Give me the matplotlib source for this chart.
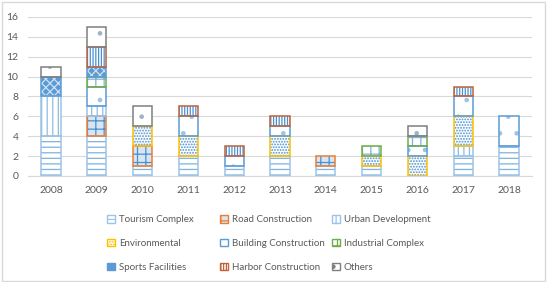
import numpy as np
import matplotlib
matplotlib.use("Agg")
import matplotlib.pyplot as plt
from matplotlib.patches import Patch, Rectangle

years = ['2008', '2009', '2010', '2011', '2012', '2013', '2014', '2015', '2016', '2017', '2018']

# counts per category, stacked bottom to top
tourism = [4, 4, 1, 2, 1, 2, 1, 1, 0, 2, 3]
road = [0, 2, 2, 0, 0, 0, 1, 0, 0, 0, 0]
urban = [4, 1, 0, 0, 0, 0, 0, 0, 0, 1, 0]
environmental = [0, 0, 2, 2, 0, 2, 0, 1, 2, 3, 0]
building = [0, 2, 0, 2, 1, 1, 0, 0, 1, 2, 3]
industrial = [0, 1, 0, 0, 0, 0, 0, 1, 1, 0, 0]
sports = [2, 1, 0, 0, 0, 0, 0, 0, 0, 0, 0]
harbor = [0, 2, 0, 1, 1, 1, 0, 0, 0, 1, 0]
others = [1, 2, 2, 0, 0, 0, 0, 0, 1, 0, 0]

names = ['Tourism Complex', 'Road Construction', 'Urban Development',
         'Environmental', 'Building Construction', 'Industrial Complex',
         'Sports Facilities', 'Harbor Construction', 'Others']
series = [tourism, road, urban, environmental, building, industrial, sports, harbor, others]

# (face, hatch, hatch colour, border colour)
styles = [
    ('white', '---', '#7FB2DE', '#9DC3E6'),
    ('#D6E6F5', '++', '#4A90D0', '#ED7D31'),
    ('white', '|||', '#8DBDE3', '#9DC3E6'),
    ('white', '......', '#4A90D0', '#FFC000'),
    ('white', '.', '#9DC3E6', '#5B9BD5'),
    ('white', '++', '#7FB2DE', '#70AD47'),
    ('#5B9BD5', 'xxxx', '#CFE2F3', '#5B9BD5'),
    ('white', '||||||', '#4A90D0', '#C0623A'),
    ('white', '.', '#9DB3C8', '#7F7F7F'),
]

plt.rcParams['font.family'] = ['Lato', 'DejaVu Sans']
plt.rcParams['hatch.linewidth'] = 0.9

fig = plt.figure(figsize=(5.5, 2.82), dpi=100)
ax = fig.add_axes([0.051, 0.376, 0.916, 0.564])

x = np.arange(len(years))
w = 0.42
bottom = np.zeros(len(years))
handles = []
for name, vals, (fc, hatch, hc, ec) in zip(names, series, styles):
    vals = np.array(vals, dtype=float)
    ax.bar(x, vals, w, bottom=bottom, color=fc, hatch=hatch, edgecolor=hc, linewidth=0, zorder=2)
    mask = vals > 0
    ax.bar(x[mask], vals[mask], w, bottom=bottom[mask], fill=False, edgecolor=ec, linewidth=1.1, zorder=3)
    bottom += vals
    handles.append(Patch(facecolor=fc, hatch=hatch, edgecolor=ec, linewidth=1.0, label=name))

ax.set_xlim(-0.5, len(years) - 0.5)
ax.set_ylim(0, 16)
ax.set_yticks(range(0, 17, 2))
ax.set_xticks(x)
ax.set_xticklabels(years)
ax.yaxis.grid(True, color='#D9D9D9', linewidth=0.8, zorder=0)
ax.set_axisbelow(True)
for s in ['top', 'right', 'left']:
    ax.spines[s].set_visible(False)
ax.spines['bottom'].set_color('#D9D9D9')
ax.tick_params(length=0, labelsize=7.5, colors='#595959', pad=7)

# legend laid out row by row, one legend per column
col_x = [107 / 550, 220 / 550, 332 / 550]
for c in range(3):
    leg = fig.legend(handles=handles[c::3], loc='upper left', bbox_to_anchor=(col_x[c], 0.237),
                     frameon=False, fontsize=7, handlelength=0.8, handleheight=0.8,
                     handletextpad=0.4, labelspacing=1.5, borderpad=0, borderaxespad=0)
    for t in leg.get_texts():
        t.set_color('#595959')

fig.patches.append(Rectangle((0.003, 0.003), 0.988, 0.99, transform=fig.transFigure,
                             fill=False, edgecolor='#D9D9D9', linewidth=1))

fig.savefig('out.png', dpi=100)
